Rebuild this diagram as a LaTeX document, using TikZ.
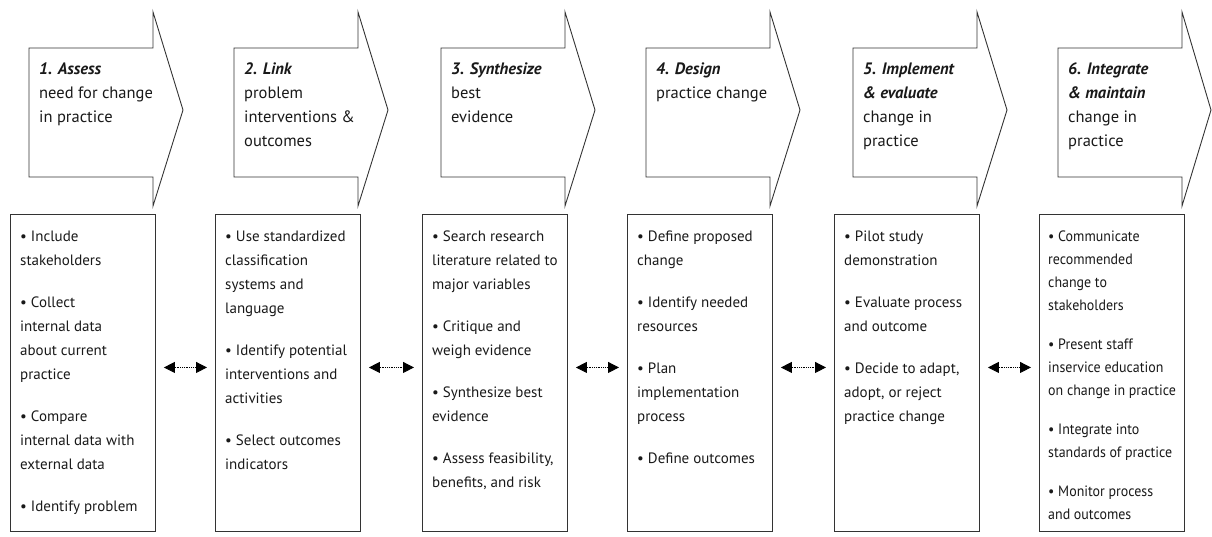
\documentclass[tikz,border=0pt]{standalone}
\usepackage{fontspec}
\setmainfont{PT Sans}
\usetikzlibrary{arrows.meta,positioning}

\tikzset{
	outline/.style={draw=black!80,line width=0.9pt},
	box/.style={outline,rectangle,minimum width=145pt,minimum height=317pt,anchor=north west,inner sep=0pt},
	hdrtext/.style={anchor=north west,inner sep=0pt,align=left,text=black!90,font=\fontsize{16.5}{24}\selectfont},
	boxtext/.style={inner sep=0pt,align=left,text=black!90,font=\fontsize{15}{24}\selectfont},
	link/.style={densely dotted,line width=0.8pt,{Triangle[length=11pt,width=11pt]}-{Triangle[length=11pt,width=11pt]},shorten <=8pt,shorten >=8pt}
}

\begin{document}
\begin{tikzpicture}[x=1pt,y=-1pt]
	\useasboundingbox (0,0) rectangle (1212,536);
	% header arrows
	\draw[outline] (29,48)--(153,48)--(153,12)--(183,110)--(153,206)--(153,177)--(29,177)--cycle;
	\draw[outline] (234,48)--(358,48)--(358,12)--(388,110)--(358,206)--(358,177)--(234,177)--cycle;
	\draw[outline] (441,48)--(565,48)--(565,12)--(595,110)--(565,206)--(565,177)--(441,177)--cycle;
	\draw[outline] (646,48)--(770,48)--(770,12)--(800,110)--(770,206)--(770,177)--(646,177)--cycle;
	\draw[outline] (853,48)--(977,48)--(977,12)--(1007,110)--(977,206)--(977,177)--(853,177)--cycle;
	\draw[outline] (1058,48)--(1182,48)--(1182,12)--(1211,110)--(1182,206)--(1182,177)--(1058,177)--cycle;
	
	\node[hdrtext] (assess) at (39,63) {\textbf{\textit{1. Assess}}\\need for change\\in practice};
	\node[hdrtext] (link) at (244,63) {\textbf{\textit{2. Link}}\\problem\\interventions \&\\outcomes};
	\node[hdrtext] (synth) at (451,63) {\textbf{\textit{3. Synthesize}}\\best\\evidence};
	\node[hdrtext] (design) at (656,63) {\textbf{\textit{4. Design}}\\practice change};
	\node[hdrtext] (implement) at (863,63) {\textbf{\textit{5. Implement}}\\\textbf{\textit{\& evaluate}}\\change in\\practice};
	\node[hdrtext] (integrate) at (1068,63) {\textbf{\textit{6. Integrate}}\\\textbf{\textit{\& maintain}}\\change in\\practice};
	
	% boxes
	\node[box] (assessbox) at (10,214) {};
	\node[box] (linkbox) at (215,214) {};
	\node[box] (synthbox) at (422,214) {};
	\node[box] (designbox) at (627,214) {};
	\node[box] (implementbox) at (834,214) {};
	\node[box] (integratebox) at (1039,214) {};
	
	\node[boxtext,below right=17pt and 10pt of assessbox.north west] (assesslist) {\textbullet\ Include\\stakeholders\\[18pt]\textbullet\ Collect\\internal data\\about current\\practice\\[18pt]\textbullet\ Compare\\internal data with\\external data\\[18pt]\textbullet\ Identify problem};
	\node[boxtext,below right=17pt and 10pt of linkbox.north west] (linklist) {\textbullet\ Use standardized\\classification\\systems and\\language\\[18pt]\textbullet\ Identify potential\\interventions and\\activities\\[18pt]\textbullet\ Select outcomes\\indicators};
	\node[boxtext,below right=17pt and 10pt of synthbox.north west] (synthlist) {\textbullet\ Search research\\literature related to\\major variables\\[18pt]\textbullet\ Critique and\\weigh evidence\\[18pt]\textbullet\ Synthesize best\\evidence\\[18pt]\textbullet\ Assess feasibility,\\benefits, and risk};
	\node[boxtext,below right=17pt and 10pt of designbox.north west] (designlist) {\textbullet\ Define proposed\\change\\[18pt]\textbullet\ Identify needed\\resources\\[18pt]\textbullet\ Plan\\implementation\\process\\[18pt]\textbullet\ Define outcomes};
	\node[boxtext,below right=17pt and 10pt of implementbox.north west] (implementlist) {\textbullet\ Pilot study\\demonstration\\[18pt]\textbullet\ Evaluate process\\and outcome\\[18pt]\textbullet\ Decide to adapt,\\adopt, or reject\\practice change};
	\node[boxtext,font=\fontsize{15}{23}\selectfont\addfontfeature{FakeStretch=0.93},below right=17pt and 9pt of integratebox.north west] (integratelist) {\textbullet\ Communicate\\recommended\\change to\\stakeholders\\[16pt]\textbullet\ Present staff\\inservice education\\on change in practice\\[16pt]\textbullet\ Integrate into\\standards of practice\\[16pt]\textbullet\ Monitor process\\and outcomes};
	
	% links between boxes
	\draw[link] ([yshift=5.5pt]assessbox.east) -- ([yshift=5.5pt]linkbox.west);
	\draw[link] ([yshift=5.5pt]linkbox.east) -- ([yshift=5.5pt]synthbox.west);
	\draw[link] ([yshift=5.5pt]synthbox.east) -- ([yshift=5.5pt]designbox.west);
	\draw[link] ([yshift=5.5pt]designbox.east) -- ([yshift=5.5pt]implementbox.west);
	\draw[link] ([yshift=5.5pt]implementbox.east) -- ([yshift=5.5pt]integratebox.west);
\end{tikzpicture}
\end{document}
